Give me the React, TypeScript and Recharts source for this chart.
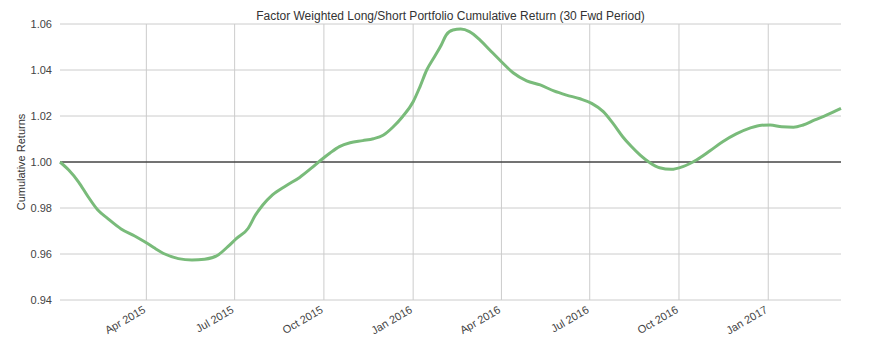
import { CartesianGrid, Line, LineChart, ReferenceLine, XAxis, YAxis } from "recharts";

// 日付 (YYYY-MM-DD) と累積リターン
const dates = [
  "2015-01-02", "2015-01-11", "2015-01-21", "2015-01-31", "2015-02-10", "2015-02-20",
  "2015-03-06", "2015-03-20", "2015-04-01", "2015-04-09", "2015-04-20", "2015-05-04",
  "2015-05-18", "2015-05-31", "2015-06-14", "2015-06-24", "2015-07-03", "2015-07-15",
  "2015-07-22", "2015-07-30", "2015-08-09", "2015-08-23", "2015-09-06", "2015-09-18",
  "2015-09-29", "2015-10-07", "2015-10-17", "2015-10-28", "2015-11-10", "2015-11-21",
  "2015-12-01", "2015-12-11", "2015-12-21", "2016-01-01", "2016-01-08", "2016-01-15",
  "2016-01-23", "2016-01-30", "2016-02-04", "2016-02-11", "2016-02-19", "2016-02-28",
  "2016-03-10", "2016-03-20", "2016-04-01", "2016-04-13", "2016-04-27", "2016-05-11",
  "2016-05-25", "2016-06-07", "2016-06-21", "2016-07-03", "2016-07-15", "2016-07-25",
  "2016-08-04", "2016-08-13", "2016-08-22", "2016-09-01", "2016-09-11", "2016-09-23",
  "2016-10-05", "2016-10-19", "2016-11-02", "2016-11-15", "2016-11-29", "2016-12-13",
  "2016-12-25", "2017-01-03", "2017-01-15", "2017-01-27", "2017-02-06", "2017-02-18",
  "2017-03-02", "2017-03-17",
];

const cumReturns = [
  1.0, 0.9965, 0.9914, 0.9849, 0.9791, 0.9755,
  0.9709, 0.9678, 0.9649, 0.9627, 0.96, 0.958,
  0.9574, 0.9577, 0.9596, 0.9632, 0.9668, 0.9712,
  0.9766, 0.9813, 0.9857, 0.9897, 0.9933, 0.9973,
  1.0012, 1.0038, 1.0067, 1.0084, 1.0093, 1.0101,
  1.0116, 1.0151, 1.0197, 1.0262, 1.0327, 1.04,
  1.0458, 1.0509, 1.0552, 1.0574, 1.0578, 1.0567,
  1.053, 1.0487, 1.0436, 1.0388, 1.0353, 1.0335,
  1.0309, 1.0291, 1.0275, 1.0255, 1.0219, 1.0168,
  1.011, 1.0067, 1.003, 0.9997, 0.9975, 0.9968,
  0.998, 1.0009, 1.0049, 1.0088, 1.0122, 1.0147,
  1.016, 1.0161, 1.0153, 1.0151, 1.0161, 1.0183,
  1.0204, 1.0233,
];

const xTickDates = [
  "2015-04-01", "2015-07-01", "2015-10-01", "2016-01-01",
  "2016-04-01", "2016-07-01", "2016-10-01", "2017-01-01",
];
const yTicks = [0.94, 0.96, 0.98, 1.0, 1.02, 1.04, 1.06];
const MONTHS = ["Jan", "Feb", "Mar", "Apr", "May", "Jun", "Jul", "Aug", "Sep", "Oct", "Nov", "Dec"];

const toTs = (s: string) => {
  const [y, m, d] = s.split("-").map(Number);
  return Date.UTC(y, m - 1, d);
};

const data = dates.map((d, i) => ({ t: toTs(d), value: cumReturns[i] }));
const xTicks = xTickDates.map(toTs);

const fmtMonth = (t: number) => {
  const d = new Date(t);
  return `${MONTHS[d.getUTCMonth()]} ${d.getUTCFullYear()}`;
};

const FONT = "'Liberation Sans', Arial, sans-serif";

function DateTick({ x, y, payload }: any) {
  return (
    <text
      x={x}
      y={y + 4}
      textAnchor="end"
      fontSize={11}
      fill="#444"
      fontFamily={FONT}
      transform={`rotate(-30, ${x}, ${y + 4})`}
    >
      {fmtMonth(payload.value)}
    </text>
  );
}

// 縦軸ラベル (回転)
function YLabel({ viewBox }: any) {
  const cy = viewBox.y + viewBox.height / 2;
  return (
    <text
      x={17}
      y={cy}
      textAnchor="middle"
      fontSize={11}
      fill="#333"
      fontFamily={FONT}
      transform={`rotate(-90, 17, ${cy})`}
    >
      Cumulative Returns
    </text>
  );
}

export default function App() {
  return (
    <div style={{ position: "relative", width: 865, height: 337, fontFamily: FONT }}>
      <div
        style={{
          position: "absolute",
          left: 52,
          width: 781,
          top: 1,
          textAlign: "center",
          fontSize: 12,
          color: "#333",
        }}
      >
        Factor Weighted Long/Short Portfolio Cumulative Return (30 Fwd Period)
      </div>
      <LineChart width={865} height={337} data={data} margin={{ top: 16, right: 32, bottom: 0, left: 0 }}>
        <CartesianGrid stroke="#cccccc" vertical={false} />
        <XAxis
          dataKey="t"
          type="number"
          scale="time"
          domain={[toTs("2015-01-02"), toTs("2017-03-17")]}
          ticks={xTicks}
          tick={<DateTick />}
          tickLine={false}
          axisLine={false}
          height={45}
          interval={0}
        />
        <YAxis
          type="number"
          domain={[0.94, 1.06]}
          ticks={yTicks}
          tickFormatter={(v: number) => v.toFixed(2)}
          tick={{ fontSize: 11, fill: "#444", fontFamily: FONT }}
          tickLine={false}
          axisLine={false}
          width={52}
          interval={0}
          label={<YLabel />}
        />
        {xTicks.map((t) => (
          <ReferenceLine key={t} x={t} stroke="#cccccc" />
        ))}
        <ReferenceLine y={1} stroke="#000" strokeWidth={1.2} />
        <Line
          type="monotone"
          dataKey="value"
          stroke="#79bb7a"
          strokeWidth={3}
          dot={false}
          isAnimationActive={false}
        />
      </LineChart>
    </div>
  );
}
